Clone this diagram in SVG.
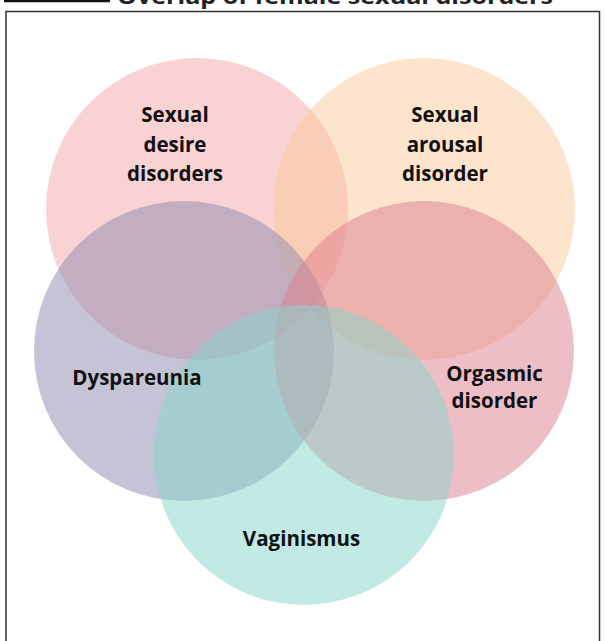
<svg xmlns="http://www.w3.org/2000/svg" width="606" height="641" viewBox="0 0 606 641">
<style>
.c{opacity:0.5}
.t{font-family:"Open Sans","Noto Sans","Liberation Sans",sans-serif;font-weight:bold;font-size:20.5px;fill:#111;text-anchor:middle}
.title{font-family:"Open Sans","Noto Sans","Liberation Sans",sans-serif;font-weight:bold;font-size:22px;fill:#222}
</style>
<rect width="606" height="641" fill="#fff"/>
<line x1="4" y1="1" x2="110" y2="1" stroke="#111" stroke-width="2.5"/>
<text class="title" x="117" y="4" textLength="436" lengthAdjust="spacingAndGlyphs">Overlap of female sexual disorders</text>
<rect x="6" y="11.5" width="593.5" height="640" fill="none" stroke="#333" stroke-width="1.5"/>
<g id="desire"><circle class="c" cx="197" cy="209" r="151" fill="#f4a6a8"/></g>
<g id="arousal"><circle class="c" cx="424" cy="209" r="151" fill="#fbc99a"/></g>
<g id="dyspareunia"><circle class="c" cx="184" cy="351" r="150" fill="#8c89ad"/></g>
<g id="orgasmic"><circle class="c" cx="424" cy="351" r="150" fill="#de7e8e"/></g>
<g id="vaginismus"><circle class="c" cx="304" cy="455" r="150" fill="#86d6c9"/></g>
<g id="labels">
<text class="t" x="175" y="122">Sexual</text>
<text class="t" x="175" y="152">desire</text>
<text class="t" x="175" y="181">disorders</text>
<text class="t" x="445" y="122">Sexual</text>
<text class="t" x="445" y="152">arousal</text>
<text class="t" x="445" y="181">disorder</text>
<text class="t" x="137" y="385">Dyspareunia</text>
<text class="t" x="494.5" y="381">Orgasmic</text>
<text class="t" x="494.5" y="408">disorder</text>
<text class="t" x="301.5" y="546">Vaginismus</text>
</g>
<g id="connectors"/>
</svg>
